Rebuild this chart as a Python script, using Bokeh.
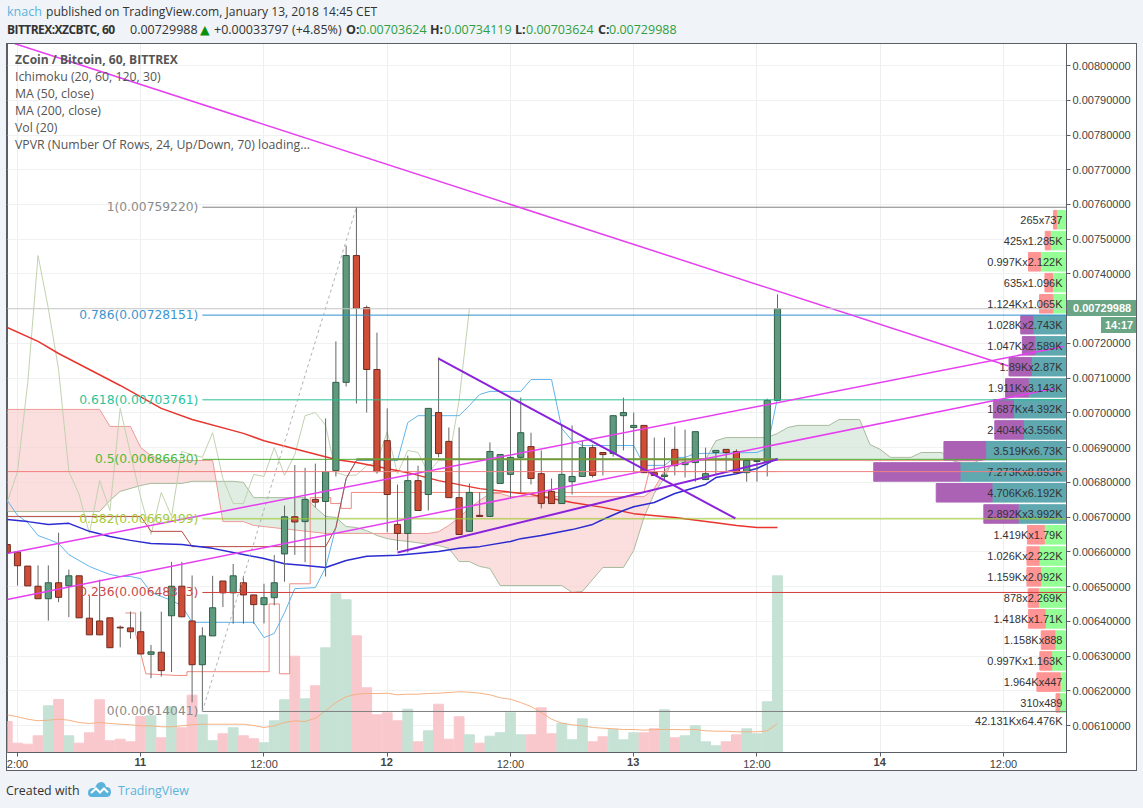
import numpy as np
from bokeh.core.properties import value
from bokeh.embed import file_html
from bokeh.layouts import column
from bokeh.models import ColumnDataSource, Div, FixedTicker, PrintfTickFormatter, Range1d, Span
from bokeh.plotting import figure
from bokeh.resources import INLINE

# prices are kept in 0.00001 BTC, SCALE brings them back to BTC
SCALE = 1e-5

hours = list(range(-1, 75))
opens = [662.1, 659.9, 655.9, 650.1, 646.5, 651.1, 650.2, 653.1, 640.9, 640.1, 641.0, 638.3, 638.1, 637.0, 630.5, 631.1,
         641.6, 650.1, 640.1, 627.5, 635.8, 651.6, 648.2, 651.1, 647.6, 644.8, 646.8, 659.4, 670.1, 668.7, 675.1, 674.5,
         683.4, 708.8, 745.3, 730.3, 712.5, 692.0, 667.9, 665.3, 680.5, 676.5, 700.1, 691.8, 675.6, 665.9, 670.5, 670.2,
         679.7, 682.3, 687.2, 690.3, 682.5, 677.4, 673.9, 680.2, 681.7, 690.0, 688.6, 688.3, 699.2, 695.8, 696.4, 682.8,
         681.7, 689.5, 685.1, 685.7, 680.8, 688.6, 689.5, 688.9, 682.8, 686.0, 685.7, 703.624]
highs = [662.1, 659.9, 655.9, 656.1, 656.1, 665.5, 654.9, 653.1, 647.4, 652.0, 641.0, 638.8, 642.8, 642.8, 633.2, 642.8,
         657.1, 657.1, 653.2, 638.3, 653.1, 651.6, 656.5, 653.1, 647.6, 650.8, 659.1, 673.3, 685.0, 684.2, 685.4, 698.4,
         720.6, 748.2, 759.22, 730.9, 723.1, 701.3, 679.4, 687.7, 684.8, 701.3, 716.0, 695.8, 695.8, 679.7, 677.1, 691.5,
         688.0, 703.6, 704.4, 694.3, 689.2, 681.1, 696.7, 696.4, 692.0, 690.9, 688.6, 699.2, 704.4, 700.1, 696.4, 692.9,
         692.9, 696.1, 695.2, 694.6, 690.0, 689.2, 689.5, 689.5, 686.3, 686.3, 704.1, 734.119]
lows = [657.5, 650.3, 650.2, 646.5, 640.2, 645.5, 641.2, 641.0, 636.1, 636.1, 632.4, 632.5, 635.0, 630.6, 623.6, 624.1,
        625.4, 641.2, 616.7, 614.04, 635.8, 644.1, 639.3, 639.3, 639.3, 639.4, 644.6, 651.4, 659.1, 657.0, 672.8, 652.9,
        681.7, 707.6, 702.7, 700.1, 682.5, 665.6, 660.4, 659.8, 671.9, 671.9, 687.2, 675.6, 665.0, 665.9, 670.2, 670.2,
        679.7, 675.3, 677.1, 679.4, 672.5, 673.9, 673.9, 676.5, 681.7, 681.4, 682.0, 687.4, 689.2, 682.8, 682.8, 682.0,
        680.5, 682.0, 681.4, 680.2, 680.8, 682.5, 683.1, 682.8, 680.2, 680.2, 681.7, 703.624]
closes = [659.8, 656.0, 650.2, 646.5, 651.1, 646.9, 653.1, 641.0, 636.1, 636.1, 632.4, 638.1, 637.0, 630.6, 631.2, 625.8,
          650.1, 641.3, 627.5, 635.8, 643.9, 648.2, 653.1, 647.6, 644.8, 646.8, 651.1, 670.1, 668.6, 675.1, 674.3, 683.1,
          708.8, 745.3, 730.1, 712.5, 683.1, 676.5, 665.3, 680.5, 671.9, 701.3, 688.3, 675.6, 665.0, 677.1, 670.2, 688.9,
          688.0, 687.2, 694.3, 681.1, 673.9, 673.9, 682.3, 681.7, 690.0, 682.0, 688.0, 699.2, 700.1, 696.4, 682.8, 682.0,
          682.1, 684.8, 685.7, 694.6, 682.5, 689.2, 688.6, 682.8, 686.3, 686.3, 703.624, 729.988]

# volume has no axis on the chart, the values are only relative
volumes = [31, 9.3, 8.3, 16.7, 46.7, 53, 16.7, 9.3, 19.7, 52.7, 11.7, 13.3, 10.7, 36, 36.7, 14.7, 45.7, 24.7, 57.3, 37.7,
           11.7, 18.7, 24.7, 16.7, 13.7, 9.7, 31.7, 52.7, 96.3, 53.7, 66.7, 104.7, 158.7, 152.7, 116.7, 64.7, 37.7, 39.7,
           31.7, 43.3, 10.7, 21.7, 48.3, 13.3, 35.7, 17.7, 9.3, 16.3, 19.7, 39.7, 17.7, 17.7, 44.7, 18.7, 29.3, 12.7, 33.7,
           10.7, 15.7, 23.3, 12.7, 19.7, 19.7, 23.7, 42.7, 14.7, 16.7, 26.7, 10.7, 6.7, 10.7, 17.7, 23.7, 18.7, 50.7, 176.7]
volume_ma = [37.7, 35.7, 33.3, 31.7, 32.3, 33.3, 32.3, 30, 29, 30, 29, 28.3, 27.7, 26.7, 26.7, 25.7, 25.7, 26.7, 27.7, 28.3,
             28.3, 28.3, 28.3, 28.3, 27, 25, 26.7, 30, 31.7, 31, 34.3, 41.7, 50, 55.7, 58.3, 59, 59, 59.3, 57.7, 58.3, 58.3,
             59, 59.3, 60, 60.7, 60.3, 59.3, 57.7, 54.7, 53.3, 50, 46, 40, 33.3, 29.3, 27.7, 26.7, 25, 24.3, 23.7, 23, 23,
             22.3, 23, 23, 23, 22.7, 23, 21.7, 21.3, 21.3, 20.7, 20.7, 20.7, 21.7, 29]

ma50_h = [-1, 1, 3, 5, 7, 9, 11, 13, 16, 19, 21, 24, 26, 28, 30, 32, 34, 37, 41, 43, 45, 48, 49, 51, 54, 56, 57, 59, 60, 62,
          64, 67, 68, 70, 72, 73, 74]
ma50 = [669.3, 668.7, 667.9, 668.2, 665.9, 664.4, 663.3, 662.4, 662.1, 661.0, 659.8, 658.1, 656.6, 656.1, 655.5, 657.5,
        658.7, 659.0, 660.1, 661.0, 661.5, 663.0, 663.8, 664.7, 666.4, 667.9, 669.3, 671.9, 673.0, 674.2, 676.8, 679.4,
        681.4, 682.5, 684.0, 685.4, 686.9]
ma200_h = [-1, 2, 4, 7, 10, 14, 17, 22, 24, 28, 31, 33, 35, 38, 41, 45, 50, 54, 57, 60, 64, 68, 70, 72, 74]
ma200 = [724.6, 720.6, 717.1, 712.5, 707.9, 701.3, 698.1, 694.1, 692.0, 688.9, 686.6, 685.7, 684.6, 682.8, 680.5, 678.2,
         676.5, 674.2, 672.8, 671.0, 669.9, 668.4, 667.6, 667.0, 667.0]

# ichimoku
conv_h = [-1, 0, 1, 2, 3, 4, 5, 6, 7, 8, 9, 10, 11, 12, 13, 15, 16, 17, 23, 24, 25, 26, 27, 29, 30, 31, 32, 33, 37, 38, 39,
          43, 44, 45, 46, 49, 50, 52, 53, 54, 55, 60, 61, 63, 64, 65, 66, 72, 73, 74]
conv = [674.8, 670.5, 668.4, 664.7, 663.6, 662.4, 659.2, 657.5, 655.8, 654.6, 653.5, 652.9, 652.9, 652.3, 648.3, 646.0,
        644.5, 639.7, 639.7, 635.3, 636.5, 642.5, 649.4, 649.7, 655.5, 667.0, 681.1, 686.3, 686.3, 697.2, 699.2, 699.2,
        702.1, 705.3, 706.2, 706.2, 709.6, 709.6, 695.5, 692.0, 690.6, 690.6, 684.9, 684.9, 687.2, 687.2, 688.3, 688.6,
        689.8, 704.4]
base_h = [-1, 12, 13, 16, 17, 30, 31, 32, 33]
base = [670.2, 670.2, 665.9, 665.9, 661.5, 661.5, 667.0, 681.1, 686.3]
base_flat_h = [33, 74]
base_flat = [686.63, 686.63]
step_h = [10.5, 11.5, 11.5, 12.5, 15.5, 16.5, 16.5, 24.5, 24.5, 25.5, 25.5, 26.5, 26.5, 28.5, 28.5, 30.5, 30.5, 31.5, 31.5,
          32.5, 32.5, 61, 61.5, 74]
step = [642.4, 642.4, 636.4, 624.9, 624.4, 624.4, 625.5, 625.5, 645.0, 645.0, 624.9, 624.9, 650.8, 650.8, 675.6, 675.6,
        673.9, 673.9, 672.5, 672.5, 677.1, 677.1, 683.1, 683.1]
span_x_h = [-1, 8, 9, 11, 12, 13, 14, 19, 19.35, 20, 22, 23, 30, 34.6, 40, 41, 42, 43, 44, 45, 46, 47, 48, 61, 62, 63, 63.5,
            64, 91, 94]
span_x = [701, 701, 696.1, 696.1, 690, 687.7, 686.3, 686.3, 680.3, 668.7, 668.7, 667.6, 665.3, 665.3, 665.3, 665.8, 667.6,
          669.9, 672.5, 674.8, 676.8, 676.8, 675.9, 675.9, 678.2, 683.4, 684.5, 686.3, 686.3, 686.3]
span_y_h = [-1, 8, 9, 10, 12, 13, 16, 17, 19.35, 21, 22, 23, 28, 29, 30, 31, 32, 33, 34, 34.6, 35, 36, 37, 38, 41, 42, 43, 44,
            45, 46, 47, 53, 54, 55, 57, 59, 60, 61, 62, 63, 63.5, 64, 67, 68, 69, 73, 74, 75, 76, 79, 80, 82, 83, 84, 85, 87,
            88, 90, 91, 92, 93, 94]
span_y = [671.6, 671.6, 674.8, 677.4, 679.1, 679.7, 679.7, 680.3, 680.3, 680.3, 680.0, 675.6, 675.6, 672.8, 670.2, 669.9,
          667.3, 667.0, 666.1, 665.3, 664.7, 663.8, 663.3, 663.0, 661.8, 661.0, 657.2, 657.2, 655.8, 655.2, 650.3, 650.3,
          648.3, 648.6, 655.5, 655.5, 660.4, 669.9, 676.8, 681.4, 684.5, 685.7, 686.6, 692.0, 692.9, 692.9, 694.1, 695.8,
          696.4, 696.4, 698.1, 698.1, 690.9, 689.5, 687.2, 687.2, 688.6, 688.6, 686.3, 685.4, 685.4, 686.9]
cloud_parts = [(-1, 19.35, "#f9cccc"), (19.35, 34.6, "#cfe3d4"), (34.6, 63.5, "#f9cccc"),
               (63.5, 91, "#cfe3d4"), (91, 94, "#f9cccc")]

# drawn lines
fib_start = 18
fib_levels = [759.22, 728.151, 703.761, 686.63, 669.499, 648.303, 614.041]
fib_labels = ["1(0.00759220)", "0.786(0.00728151)", "0.618(0.00703761)", "0.5(0.00686630)",
              "0.382(0.00669499)", "0.236(0.00648303)", "0(0.00614041)"]
fib_colors = ["#808080", "#2f8fcf", "#26bf94", "#4caf30", "#9ccc2c", "#d23c3c", "#808080"]
fib_text_colors = ["#8a8a8a", "#3d95cf", "#2ac49a", "#4dbb36", "#a3c93a", "#c94a4a", "#8a8a8a"]
diag_h = [18, 33]
diag = [614.041, 759.22]
magenta_h = [[-0.3, 96.5], [-1, 101.85], [-1, 100.9]]
magenta = [[806.35, 713.5], [659.5, 719.1], [646.3, 707.0]]
purple_h = [[41, 69.9], [37, 74]]
purple = [[715.6, 669.6], [659.8, 686.6]]
last_price = 729.988
red_level = 683.1

# volume profile, top row first, in thousands
vpvr_price = [755.6, 749.6, 743.5, 737.5, 731.4, 725.4, 719.3, 713.3, 707.2, 701.2, 695.1, 689.1, 683.0, 677.0, 670.9,
              664.9, 658.8, 652.8, 646.7, 640.7, 634.6, 628.6, 622.5, 616.5]
vpvr_down = [0.265, 0.425, 0.997, 0.635, 1.124, 1.028, 1.047, 1.89, 1.911, 1.687, 2.404, 3.519, 7.273, 4.706, 2.892, 1.419,
             1.026, 1.159, 0.878, 1.418, 1.158, 0.997, 1.964, 0.31]
vpvr_up = [0.737, 1.285, 2.122, 1.096, 1.065, 2.743, 2.589, 2.87, 3.143, 4.392, 3.556, 6.73, 8.893, 6.192, 3.992, 1.79,
           2.222, 2.092, 2.269, 1.71, 0.888, 1.163, 0.447, 0.489]
vpvr_text = ["265x737", "425x1.285K", "0.997Kx2.122K", "635x1.096K", "1.124Kx1.065K", "1.028Kx2.743K", "1.047Kx2.589K",
             "1.89Kx2.87K", "1.911Kx3.143K", "1.687Kx4.392K", "2.404Kx3.556K", "3.519Kx6.73K", "7.273Kx8.893K",
             "4.706Kx6.192K", "2.892Kx3.992K", "1.419Kx1.79K", "1.026Kx2.222K", "1.159Kx2.092K", "878x2.269K",
             "1.418Kx1.71K", "1.158Kx888", "0.997Kx1.163K", "1.964Kx447", "310x489"]
vpvr_value_area = [False] * 5 + [True] * 10 + [False] * 9
vpvr_total = "42.131Kx64.476K"
vpvr_total_price = 611.25

price_ticks = [610 + 10 * i for i in range(20)]
time_ticks = list(range(0, 97, 12))
time_labels = ["2:00", " ", "12:00", " ", "12:00", " ", "12:00", " ", "12:00"]
day_ticks = [12, 36, 60, 84]
day_labels = ["11", "12", "13", "14"]

legend_lines = ["ZCoin / Bitcoin, 60, BITTREX", "Ichimoku (20, 60, 120, 30)", "MA (50, close)", "MA (200, close)",
                "Vol (20)", "VPVR (Number Of Rows, 24, Up/Down, 70) loading..."]
ohlc_x = [346, 430, 515, 598]
ohlc_names = ["O:", "H:", "L:", "C:"]
ohlc_value_x = [359, 444, 526, 609]
ohlc_values = ["0.00703624", "0.00734119", "0.00703624", "0.00729988"]

PAGE = "#f0f3f8"
BORDER = "#5a5e66"
UP = "#5f9a7e"
DOWN = "#cf4e38"
SANS = "Open Sans"
ARIAL = "Liberation Sans"
X_START, X_END = -0.974, 102.14


def px(values):
    return np.array(values) * SCALE


p = figure(width=1143, height=808, output_backend="svg", toolbar_location=None,
           x_range=Range1d(X_START, X_END), y_range=Range1d(602.23 * SCALE, 806.35 * SCALE),
           y_axis_location="right", min_border_left=7, min_border_right=77, min_border_top=43, min_border_bottom=56,
           background_fill_color="white", border_fill_color="white", outline_line_color=BORDER, margin=0)
p.extra_y_ranges = {"vol": Range1d(0, 709)}
p.extra_x_ranges = {"vpvr": Range1d(89.2, -0.085)}

p.xaxis.ticker = FixedTicker(ticks=time_ticks)
p.xaxis.major_label_overrides = dict(zip(time_ticks, time_labels))
p.yaxis.ticker = FixedTicker(ticks=[t * SCALE for t in price_ticks])
p.yaxis.formatter = PrintfTickFormatter(format="%.8f")
for axis in [p.xaxis[0], p.yaxis[0]]:
    axis.axis_line_color = BORDER
    axis.major_tick_line_color = BORDER
    axis.major_tick_out = 4
    axis.major_tick_in = 0
    axis.minor_tick_line_color = None
    axis.major_label_text_font = ARIAL
    axis.major_label_text_font_size = "11px"
    axis.major_label_text_color = "#444444"
p.xaxis.major_label_standoff = 1
p.yaxis.major_label_standoff = 2
p.xgrid.ticker = FixedTicker(ticks=time_ticks)
p.ygrid.ticker = FixedTicker(ticks=[t * SCALE for t in price_ticks])
p.xgrid.grid_line_color = "#eceef0"
p.ygrid.grid_line_color = "#eff1f3"

# volume
is_up = np.array(closes) >= np.array(opens)
vol_source = ColumnDataSource(dict(x=hours, top=volumes,
                                   color=["#c6e2d5" if u else "#f9c8cd" for u in is_up]))
p.vbar(x="x", top="top", bottom=0, width=0.96, color="color", source=vol_source, y_range_name="vol")
p.line(hours, volume_ma, line_color="#f4b183", line_width=1, y_range_name="vol")

# cloud
for start, end, color in cloud_parts:
    top_h = [h for h in span_x_h if start <= h <= end]
    top_v = [v for h, v in zip(span_x_h, span_x) if start <= h <= end]
    bot_h = [h for h in span_y_h if start <= h <= end]
    bot_v = [v for h, v in zip(span_y_h, span_y) if start <= h <= end]
    p.patch(top_h + bot_h[::-1], px(top_v + bot_v[::-1]), fill_color=color, fill_alpha=0.65, line_color=None)
p.line(span_x_h, px(span_x), line_color="#ee9a96", line_width=1)
p.line(span_y_h, px(span_y), line_color="#a8bb9c", line_width=1)

# lagging span is the close moved back 30 bars
p.line([h - 30 for h in hours[30:]], px(closes[30:]), line_color="#c2d2b0", line_width=1)
p.line(step_h, px(step), line_color="#f08a80", line_width=1)
p.line(conv_h, px(conv), line_color="#62b4ea", line_width=1)
p.line(base_h, px(base), line_color="#b84a44", line_width=1)

p.line(ma200_h, px(ma200), line_color="#e8352e", line_width=1.5)
p.line(ma50_h, px(ma50), line_color="#2b2bd0", line_width=1.5)

# candles
candles = ColumnDataSource(dict(
    x=hours, high=px(highs), low=px(lows),
    top=px(np.maximum(opens, closes)), bottom=px(np.minimum(opens, closes)),
    fill=[UP if u else DOWN for u in is_up],
    edge=["#2e5f48" if u else "#6e2a20" for u in is_up]))
p.segment(x0="x", y0="high", x1="x", y1="low", line_color="#666666", line_width=1, source=candles)
p.vbar(x="x", top="top", bottom="bottom", width=0.6, fill_color="fill", line_color="edge", line_width=1, source=candles)

# volume profile
vpvr = ColumnDataSource(dict(
    y=px(vpvr_price), down=vpvr_down, up=vpvr_up, total=np.array(vpvr_down) + np.array(vpvr_up),
    down_color=["#ab62b5" if a else "#ff9494" for a in vpvr_value_area],
    up_color=["#5fa8b0" if a else "#94ff94" for a in vpvr_value_area],
    label=vpvr_text))
p.hbar(y="y", left=0, right="up", height=5.33 * SCALE, color="up_color", source=vpvr, x_range_name="vpvr")
p.hbar(y="y", left="up", right="total", height=5.33 * SCALE, color="down_color", source=vpvr, x_range_name="vpvr")

# horizontal levels and fibonacci
p.add_layout(Span(location=last_price * SCALE, dimension="width", line_color="#c8c8c8", line_width=1))
p.add_layout(Span(location=red_level * SCALE, dimension="width", line_color="#f08080", line_width=1))
p.segment(x0=fib_start, x1=X_END, y0=px(fib_levels), y1=px(fib_levels), line_color=fib_colors, line_width=1)
p.line(base_flat_h, px(base_flat), line_color="#6f9a3a", line_width=2)
p.line(diag_h, px(diag), line_color="#b0b0b0", line_width=1, line_dash="3 3")
for xs, ys in zip(magenta_h, magenta):
    p.line(xs, px(ys), line_color="#e63ff0", line_width=1.5)
for xs, ys in zip(purple_h, purple):
    p.line(xs, px(ys), line_color="#8a22dc", line_width=2)

p.text(x=fib_start, y=px(fib_levels), text=fib_labels, text_color=fib_text_colors, text_align="right",
       text_baseline="middle", x_offset=-4, text_font=value("DejaVu Sans"), text_font_size="12.3px")
p.text(x=0, y="y", text="label", source=vpvr, x_range_name="vpvr", x_offset=-3, text_align="right",
       text_baseline="middle", text_color="#333333", text_font=value(ARIAL), text_font_size="11px")
p.text(x=0, y=[vpvr_total_price * SCALE], text=[vpvr_total], x_range_name="vpvr", x_offset=-3, text_align="right",
       text_baseline="middle", text_color="#333333", text_font=value(ARIAL), text_font_size="11px")


# glyphs and labels get clipped to the frame, so everything around it is a Div on top
def box(x, y, w, h, **styles):
    base_styles = {"position": "absolute", "left": "%gpx" % x, "top": "%gpx" % y}
    base_styles.update(styles)
    return Div(text="", width=w, height=h, margin=0, styles=base_styles)


def page_text(x, y, text, color="#333333", size="12.5px", bold=False, font=SANS, width=560, align="left", spacing="normal"):
    return Div(text=text, width=width, height=18, margin=0,
               styles={"position": "absolute", "left": "%gpx" % x, "top": "%gpx" % (y - 9), "line-height": "18px",
                       "color": color, "font-family": font, "font-size": size, "white-space": "nowrap",
                       "font-weight": "bold" if bold else "normal", "text-align": align, "letter-spacing": spacing})


overlay = [
    box(0, 0, 1143, 43, background=PAGE),
    box(0, 771, 1143, 37, background=PAGE),
    box(0, 0, 6, 808, background=PAGE),
    box(1137, 0, 6, 808, background=PAGE),
    box(6, 43, 1131, 728, border="1px solid " + BORDER, **{"box-sizing": "border-box"}),
    box(1067, 300, 69, 16, background="#6aa585"),
    box(1101, 317, 35, 16, background="#6aa585"),
    page_text(1073, 308, "0.00729988", color="white", size="11px", bold=True, font=ARIAL, width=62),
    page_text(1105, 325, "14:17", color="white", size="11px", bold=True, font=ARIAL, width=30),
]

# legend
for i, line in enumerate(legend_lines):
    overlay.append(page_text(15, 60 + 17 * i, line, color="#555555", size="12.05px" if i == 0 else "12.3px", bold=i == 0,
                             width=340))

# header
overlay.append(page_text(7, 11.5, "knach", color="#5bb3dc", width=38))
overlay.append(page_text(46, 11.5, "published on TradingView.com, January 13, 2018 14:45 CET", size="12.1px", width=400))
overlay.append(page_text(7, 29.5, "BITTREX:XZCBTC, 60", size="12px", bold=True, width=122, spacing="-0.55px"))
overlay.append(page_text(130, 29.5, "0.00729988", width=68))
overlay.append(page_text(200, 29.5, "\u25b2", color="#0a8f0a", font="DejaVu Sans", width=13))
overlay.append(page_text(214, 29.5, "+0.00033797 (+4.85%)", width=130))
for x, name, vx, val in zip(ohlc_x, ohlc_names, ohlc_value_x, ohlc_values):
    overlay.append(page_text(x, 29.5, name, bold=True, width=14))
    overlay.append(page_text(vx, 29.5, val, color="#2f9e3f", width=70))

# bold day labels sit on the time axis ticks
for h, text in zip(day_ticks, day_labels):
    tick_x = 7 + (h - X_START) / (X_END - X_START) * 1059
    overlay.append(page_text(tick_x - 15, 762, text, color="#444444", size="11px", bold=True, font=ARIAL, width=30,
                             align="center"))

# footer
overlay.append(page_text(6, 790.5, "Created with", width=80, size="12.4px"))
overlay.append(page_text(118, 790.5, "TradingView", color="#5bb3dc", width=80, size="12.4px"))
logo = ('<svg width="23" height="15" viewBox="0 0 23 15" style="display:block">'
        '<path d="M0 11Q0 6 5 6L7 6Q9 0 13 0Q17 0 18 5Q23 5 23 10Q23 15 18 15L4 15Q0 15 0 11Z" fill="#5bb3dc"/>'
        '<polyline points="3,11 8,6.5 12,10.5 16,6.5 20,10.5" fill="none" stroke="white" stroke-width="2"/></svg>')
overlay.append(Div(text=logo, width=23, height=15, margin=0, styles={"position": "absolute", "left": "88px", "top": "782px"}))

root = column(p, *overlay, spacing=0, width=1143, height=808, margin=0)
open("out.html", "w").write(file_html(root, INLINE))
